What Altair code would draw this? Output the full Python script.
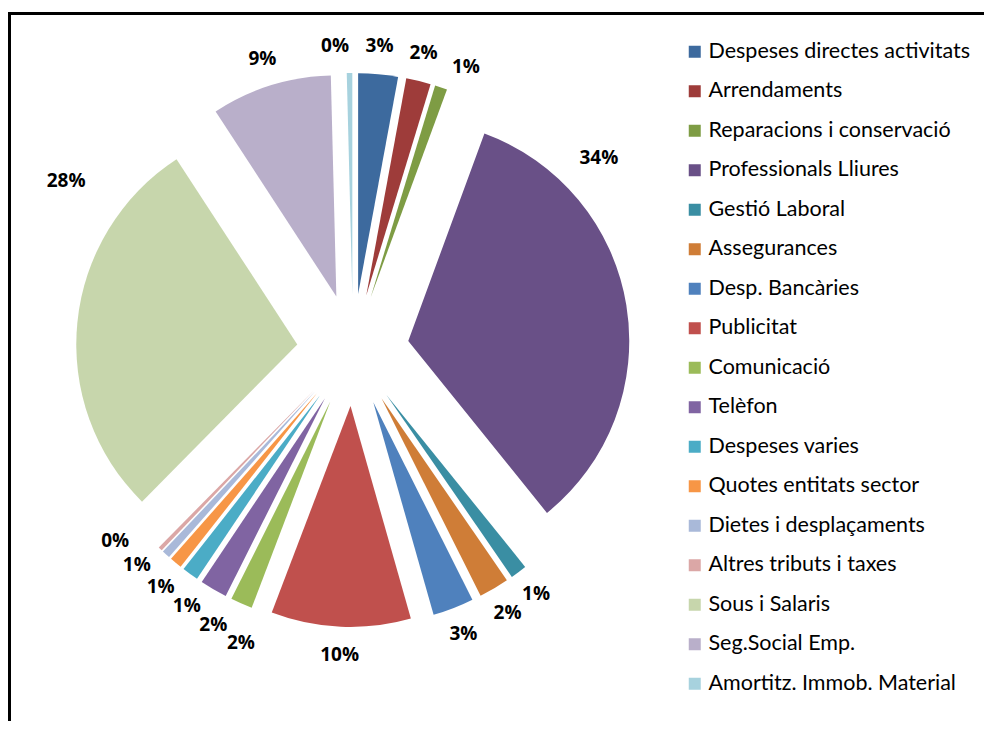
import math
import altair as alt
import pandas as pd

# ---- data ----
categories = [
    "Despeses directes activitats", "Arrendaments", "Reparacions i conservació",
    "Professionals Lliures", "Gestió Laboral", "Assegurances", "Desp. Bancàries",
    "Publicitat", "Comunicació", "Telèfon", "Despeses varies",
    "Quotes entitats sector", "Dietes i desplaçaments", "Altres tributs i taxes",
    "Sous i Salaris", "Seg.Social Emp.", "Amortitz. Immob. Material",
]
shares = [2.9, 1.8, 0.9, 33.6, 1.2, 2.2, 3.0, 10.2, 1.6, 2.0, 1.2, 0.9, 0.6, 0.3, 28.4, 8.8, 0.4]
colors = [
    "#3D6A9E", "#9E3C3A", "#7E9C44", "#695087", "#3A8EA3", "#CF7D37",
    "#4F81BD", "#C0504D", "#9BBB59", "#8064A2", "#4BACC6", "#F79646",
    "#A9B9D9", "#DBA7A6", "#C7D6AC", "#B9AFCA", "#A7D2DE",
]

# ---- layout settings ----
W, H = 976, 713
CX, CY = 345, 342          # pie centre (plot coords)
R = 221                    # pie radius
EXPLODE = 56               # slice explosion distance
LABEL_R = 305              # label distance from centre
BOX_W, BOX_H = 44, 19      # label spacing box (angular spread)
TXT_W, TXT_H = 34, 18.5    # label text box (overlap check)
label_override = {"Professionals Lliures": (52.0, 312), "Sous i Salaris": (300.5, 333)}


def min_sep(a_deg):
    a = math.radians(a_deg)
    c, s = abs(math.cos(a)), abs(math.sin(a))
    need = min(BOX_W / c if c > 1e-6 else 1e9, BOX_H / s if s > 1e-6 else 1e9)
    return math.degrees(need / LABEL_R)


# label angles: slice mid-angle, spread apart where labels would collide
total = sum(shares)
mids, acc = [], 0.0
for s in shares:
    m = (acc + s / 2) / total * 360.0
    if m > 270:
        m -= 360.0
    mids.append(m)
    acc += s

order_idx = sorted(range(len(mids)), key=lambda i: mids[i])
clusters = [[i] for i in order_idx]
pos = list(mids)
changed = True
while changed:
    changed = False
    for k in range(len(clusters) - 1):
        a, b = clusters[k], clusters[k + 1]
        gap_needed = min_sep((pos[a[-1]] + pos[b[0]]) / 2)
        if pos[b[0]] - pos[a[-1]] < gap_needed:
            merged = a + b
            centre = sum(mids[i] for i in merged) / len(merged)
            step = min_sep(centre)
            n = len(merged)
            for j, i in enumerate(merged):
                pos[i] = centre + (j - (n - 1) / 2) * step
            clusters[k:k + 2] = [merged]
            changed = True
            break

lab_ang, lab_r = [], []
for c, p in zip(categories, pos):
    if c in label_override:
        lab_ang.append(label_override[c][0])
        lab_r.append(label_override[c][1])
    else:
        lab_ang.append(p)
        lab_r.append(LABEL_R)


# push labels outward where their text boxes still overlap
def xy(i):
    a = math.radians(lab_ang[i])
    return lab_r[i] * math.sin(a), -lab_r[i] * math.cos(a)


placed = []
for i in sorted(range(len(categories)), key=lambda i: -lab_ang[i]):
    for _ in range(60):
        x, y = xy(i)
        hit = any(abs(x - xy(j)[0]) < TXT_W and abs(y - xy(j)[1]) < TXT_H for j in placed)
        if not hit:
            break
        lab_r[i] += 0.5
    placed.append(i)

df = pd.DataFrame({
    "cat": categories,
    "share": shares,
    "order": list(range(len(categories))),
    "lab_ang": lab_ang,
    "lab_r": lab_r,
})

base = (
    alt.Chart(df)
    .transform_joinaggregate(total="sum(share)")
    .transform_window(cum="sum(share)", sort=[alt.SortField("order")], frame=[None, 0])
    .transform_calculate(
        t0="2*PI*(datum.cum-datum.share)/datum.total",
        t1="2*PI*datum.cum/datum.total",
    )
    .transform_calculate(mid="(datum.t0+datum.t1)/2")
    .transform_calculate(
        px=f"{CX}+{EXPLODE}*sin(datum.mid)",
        py=f"{CY}-{EXPLODE}*cos(datum.mid)",
        lx=f"{CX}+datum.lab_r*sin(datum.lab_ang*PI/180)",
        ly=f"{CY}-datum.lab_r*cos(datum.lab_ang*PI/180)",
        pct="format(datum.share/datum.total, '.0%')",
    )
)

pie = base.mark_arc(radius=R).encode(
    theta=alt.Theta("t0:Q", scale=None),
    theta2="t1:Q",
    x=alt.X("px:Q", scale=None, axis=None),
    y=alt.Y("py:Q", scale=None, axis=None),
    color=alt.Color(
        "cat:N",
        scale=alt.Scale(domain=categories, range=colors),
        sort=categories,
        legend=alt.Legend(
            title=None, orient="none", legendX=676, legendY=33,
            symbolType="square", symbolSize=144, symbolStrokeWidth=0,
            labelFont="Lato", labelFontSize=21.5, labelColor="#000000",
            labelOffset=3, rowPadding=16.5, padding=0, labelLimit=400,
        ),
    ),
    order=alt.Order("order:Q"),
)

labels = base.mark_text(
    font="Open Sans", fontWeight="bold", fontSize=19, color="#000000",
    align="center", baseline="middle",
).encode(
    x=alt.X("lx:Q", scale=None, axis=None),
    y=alt.Y("ly:Q", scale=None, axis=None),
    text="pct:N",
)

frame_df = pd.DataFrame({"a": [0]})
top_line = alt.Chart(frame_df).mark_rule(color="#000000", strokeWidth=3).encode(
    x=alt.value(0), x2=alt.value(W), y=alt.value(5.5)
)
left_line = alt.Chart(frame_df).mark_rule(color="#000000", strokeWidth=3).encode(
    x=alt.value(1.5), y=alt.value(4), y2=alt.value(H)
)

chart = (
    alt.layer(pie, labels, top_line, left_line)
    .properties(width=W, height=H, autosize=alt.AutoSizeParams(type="none"), padding=0)
    .configure_view(stroke=None)
)

chart.save("out.html", embed_options={"renderer": "svg", "actions": False})
